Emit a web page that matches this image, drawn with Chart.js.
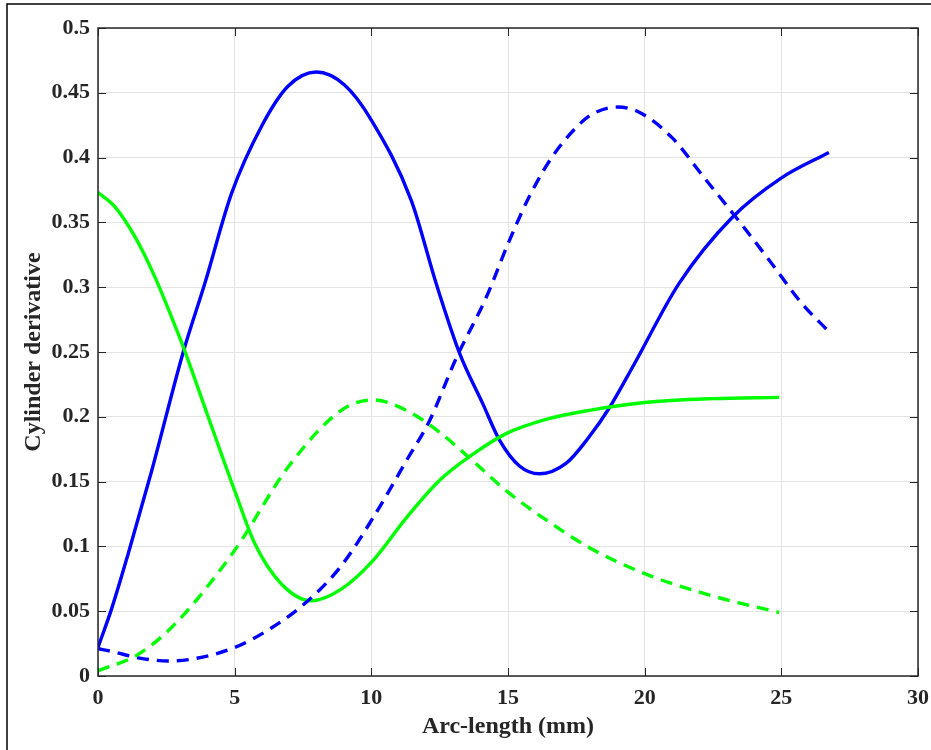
<!DOCTYPE html>
<html lang="en">
<head>
<meta charset="UTF-8">
<title>Cylinder derivative</title>
<script src="https://cdn.jsdelivr.net/npm/chart.js"></script>
<style>
    html, body { margin: 0; padding: 0; background: #fff; }
    #wrap { width: 931px; height: 750px; position: relative; }
</style>
</head>
<body>
<div id="wrap"><canvas id="cylChart"></canvas></div>
<script>
// values
var blueSolidX = [0, 0.5, 1.1, 1.96, 3.12, 3.91, 4.88, 5.98, 6.95, 7.99, 9.02, 10.0, 11.46, 12.37, 13.23, 14.08, 14.69, 15.42, 16.15, 17.12, 17.95, 18.71, 19.6, 21.26, 23.21, 24.98, 26.74];
var blueSolidY = [0.022, 0.052, 0.094, 0.158, 0.25, 0.303, 0.372, 0.424, 0.455, 0.466, 0.456, 0.429, 0.367, 0.303, 0.249, 0.21, 0.182, 0.162, 0.156, 0.164, 0.184, 0.207, 0.24, 0.303, 0.354, 0.384, 0.404];

var greenSolidX = [0, 0.62, 1.35, 2.08, 2.69, 3.12, 4.03, 5.0, 5.74, 6.71, 7.81, 8.9, 10.06, 11.28, 12.5, 13.71, 14.93, 16.39, 17.98, 19.99, 22.48, 24.92];
var greenSolidY = [0.373, 0.362, 0.339, 0.308, 0.277, 0.254, 0.2, 0.143, 0.102, 0.071, 0.058, 0.067, 0.089, 0.122, 0.151, 0.171, 0.187, 0.198, 0.205, 0.211, 0.214, 0.215];

var blueDashX = [0, 0.5, 1.47, 2.57, 3.54, 5.0, 6.34, 7.68, 8.9, 10.06, 11.28, 12.13, 13.1, 14.2, 15.05, 15.78, 16.63, 17.73, 18.22, 19.01, 19.8, 21.02, 22.12, 23.34, 24.55, 25.77, 26.68];
var blueDashY = [0.021, 0.019, 0.014, 0.0116, 0.0134, 0.022, 0.037, 0.058, 0.085, 0.122, 0.166, 0.197, 0.245, 0.292, 0.336, 0.37, 0.401, 0.428, 0.435, 0.439, 0.435, 0.415, 0.386, 0.354, 0.321, 0.287, 0.267];

var greenDashX = [0, 1.47, 2.81, 5.0, 6.95, 8.9, 10.06, 11.28, 12.5, 13.71, 14.93, 16.15, 17.98, 20.05, 22.48, 24.92];
var greenDashY = [0.004, 0.0167, 0.04, 0.097, 0.161, 0.205, 0.213, 0.205, 0.188, 0.166, 0.143, 0.124, 0.099, 0.0786, 0.0618, 0.049];

var xTicks = [0, 5, 10, 15, 20, 25, 30];
var yTicks = [0, 0.05, 0.1, 0.15, 0.2, 0.25, 0.3, 0.35, 0.4, 0.45, 0.5];
var xTitle = 'Arc-length (mm)';
var yTitle = 'Cylinder derivative';

function toPoints(xs, ys) {
    return xs.map(function (x, i) { return { x: x, y: ys[i] }; });
}

var tickFont = { family: 'Liberation Serif', weight: 'bold', size: 22 };
var titleFont = { family: 'Liberation Serif', weight: 'bold', size: 24 };
var inkColor = '#262626';

// white page, outer figure frame, axes box and inward ticks (MATLAB look)
var boxPlugin = {
    id: 'boxPlugin',
    beforeDraw: function (chart) {
        var c = chart.ctx;
        c.save();
        c.fillStyle = '#fff';
        c.fillRect(0, 0, chart.width, chart.height);
        c.strokeStyle = '#000';
        c.lineWidth = 1.5;
        c.beginPath();
        c.moveTo(7, chart.height);
        c.lineTo(7, 4);
        c.lineTo(chart.width, 4);
        c.stroke();
        c.restore();
    },
    afterDatasetsDraw: function (chart) {
        var c = chart.ctx, a = chart.chartArea;
        var sx = chart.scales.x, sy = chart.scales.y;
        var tl = 8;
        c.save();
        c.strokeStyle = inkColor;
        c.lineWidth = 1;
        c.beginPath();
        xTicks.forEach(function (v) {
            var p = Math.round(sx.getPixelForValue(v)) + 0.5;
            c.moveTo(p, a.bottom); c.lineTo(p, a.bottom - tl);
            c.moveTo(p, a.top); c.lineTo(p, a.top + tl);
        });
        yTicks.forEach(function (v) {
            var p = Math.round(sy.getPixelForValue(v)) + 0.5;
            c.moveTo(a.left, p); c.lineTo(a.left + tl, p);
            c.moveTo(a.right, p); c.lineTo(a.right - tl, p);
        });
        c.stroke();
        c.lineWidth = 1.5;
        c.strokeRect(a.left, a.top, a.right - a.left, a.bottom - a.top);
        c.restore();
    }
};

var ctx = document.getElementById('cylChart').getContext('2d');
var cylChart = new Chart(ctx, {
    type: 'scatter',
    data: {
        datasets: [{
            data: toPoints(greenDashX, greenDashY),
            borderColor: '#00ff00',
            borderDash: [12, 8]
        }, {
            data: toPoints(blueDashX, blueDashY),
            borderColor: '#0000ff',
            borderDash: [12, 8]
        }, {
            data: toPoints(greenSolidX, greenSolidY),
            borderColor: '#00ff00'
        }, {
            data: toPoints(blueSolidX, blueSolidY),
            borderColor: '#0000ff'
        }]
    },
    options: {
        responsive: true,
        maintainAspectRatio: false,
        animation: false,
        showLine: true,
        layout: { padding: { left: 0, top: 28, right: 13, bottom: 0 } },
        elements: {
            point: { radius: 0, hoverRadius: 0 },
            line: { borderWidth: 3.4, cubicInterpolationMode: 'monotone', fill: false, borderCapStyle: 'butt' }
        },
        plugins: {
            legend: { display: false },
            tooltip: { enabled: false }
        },
        scales: {
            x: {
                type: 'linear',
                min: 0,
                max: 30,
                afterBuildTicks: function (s) { s.ticks = xTicks.map(function (v) { return { value: v }; }); },
                afterFit: function (s) { s.height = 74; s.paddingLeft = 0; s.paddingRight = 0; },
                grid: { color: '#e3e3e3', lineWidth: 1, drawTicks: false },
                border: { display: false },
                ticks: { font: tickFont, color: inkColor, padding: 9, maxRotation: 0 },
                title: { display: true, text: xTitle, font: titleFont, color: inkColor, padding: { top: 0, bottom: 9 } }
            },
            y: {
                type: 'linear',
                min: 0,
                max: 0.5,
                afterBuildTicks: function (s) { s.ticks = yTicks.map(function (v) { return { value: v }; }); },
                afterFit: function (s) { s.width = 98; s.paddingTop = 0; s.paddingBottom = 0; },
                grid: { color: '#e3e3e3', lineWidth: 1, drawTicks: false },
                border: { display: false },
                ticks: {
                    font: tickFont, color: inkColor, padding: 8,
                    callback: function (v) { return String(+v.toFixed(2)); }
                },
                title: { display: true, text: yTitle, font: titleFont, color: inkColor, padding: { top: 19, bottom: 0 } }
            }
        }
    },
    plugins: [boxPlugin]
});
</script>
</body>
</html>
